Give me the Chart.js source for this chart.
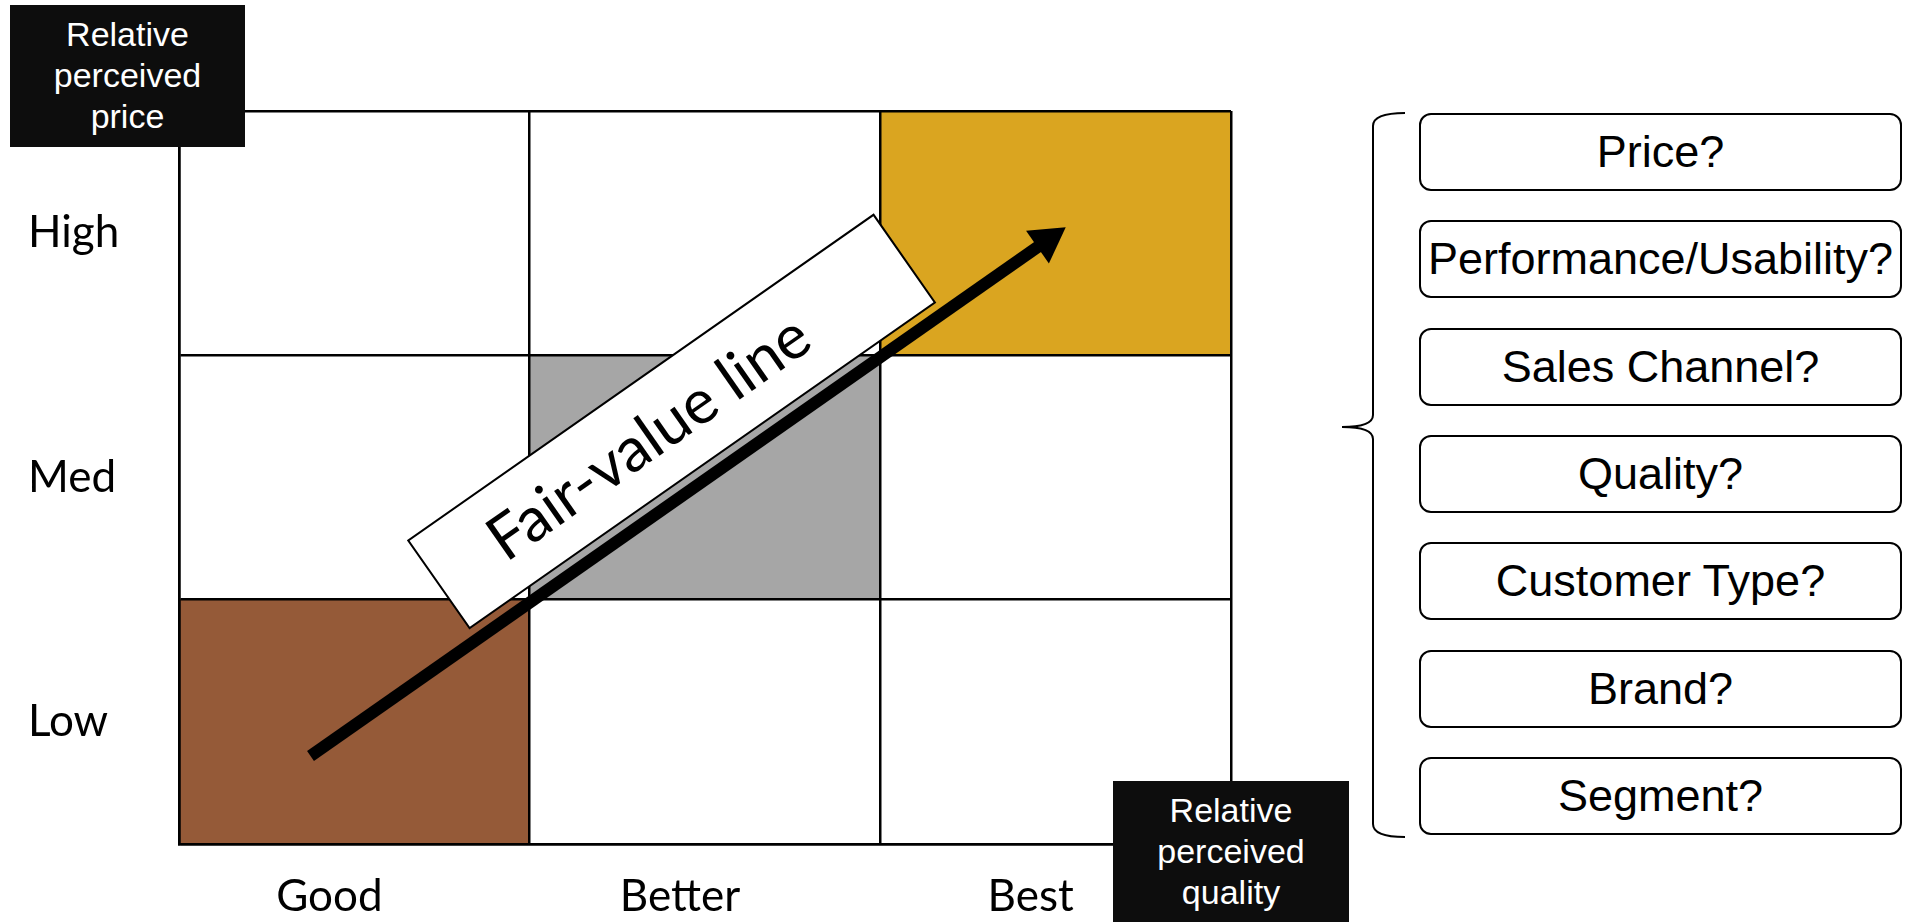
<!DOCTYPE html>
<html>
<head>
<meta charset="utf-8">
<script src="https://cdn.jsdelivr.net/npm/chart.js@4.4.1/dist/chart.umd.min.js"></script>
<style>
  html, body { margin: 0; padding: 0; background: #fff; }
  body { width: 1905px; height: 922px; position: relative; overflow: hidden; font-family: "Liberation Sans", Arial, sans-serif; }
  #wrap { position: absolute; left: 0; top: 0; width: 1905px; height: 922px; }
  .tag { position: absolute; background: #0d0d0d; color: #fff; font-size: 34px; line-height: 41px; text-align: center; box-sizing: border-box; padding-top: 9px; }
  .factor { position: absolute; left: 1419px; width: 483px; height: 78px; box-sizing: border-box; border: 2px solid #000; border-radius: 12px; font-size: 45px; display: flex; align-items: center; justify-content: center; white-space: nowrap; background: #fff; }
  #brace { position: absolute; left: 0; top: 0; }
</style>
</head>
<body>
<div id="wrap"><canvas id="myChart"></canvas></div>
<div class="tag" style="left:10px;top:5px;width:235px;height:142px">Relative<br>perceived<br>price</div>
<div class="tag" style="left:1113px;top:781px;width:236px;height:141px">Relative<br>perceived<br>quality</div>
<svg id="brace" width="1905" height="922">
  <path d="M1405,113 Q1373,113 1373,126 L1373,415 Q1373,427 1342,427 Q1373,427 1373,439 L1373,824 Q1373,837 1405,837" fill="none" stroke="#000" stroke-width="2"/>
</svg>
<div id="factors"></div>
<script>
"use strict";

// columns (x) and rows (y) of the grid
const quality = ["Good", "Better", "Best"];
const priceLevels = ["Low", "Med", "High"];
// row index of the filled cell in each column
const fairValue = [0, 1, 2];
const tierColors = ["#955a38", "#a6a6a6", "#daa520"];

// fair-value arrow, in grid units (0..3)
const arrowX = [0.375, 2.475];
const arrowY = [0.36, 2.47];
const arrowText = "Fair-value line";

const factors = [
  "Price?",
  "Performance/Usability?",
  "Sales Channel?",
  "Quality?",
  "Customer Type?",
  "Brand?",
  "Segment?",
];

const box = document.getElementById("factors");
factors.forEach((f, i) => {
  const d = document.createElement("div");
  d.className = "factor";
  d.style.top = 113 + i * 107.3 + "px";
  d.textContent = f;
  box.appendChild(d);
});

const tickFont = { family: "Lato", size: 44 };
const centers = quality.map((q, i) => i + 0.5);

// white label box lying along the arrow
const fairLabel = {
  id: "fairLabel",
  afterDraw(chart) {
    const xs = chart.scales.ax;
    const ys = chart.scales.ay;
    const x0 = xs.getPixelForValue(arrowX[0]);
    const y0 = ys.getPixelForValue(arrowY[0]);
    const x1 = xs.getPixelForValue(arrowX[1]);
    const y1 = ys.getPixelForValue(arrowY[1]);
    const len = Math.hypot(x1 - x0, y1 - y0);
    const c = chart.ctx;
    c.save();
    c.translate(x0, y0);
    c.rotate(Math.atan2(y1 - y0, x1 - x0));
    c.translate(len * 0.5425, -67);
    c.fillStyle = "#fff";
    c.strokeStyle = "#000";
    c.lineWidth = 2;
    c.fillRect(-284, -53.5, 568, 107);
    c.strokeRect(-284, -53.5, 568, 107);
    c.fillStyle = "#000";
    c.font = "62px Lato";
    c.textAlign = "center";
    c.textBaseline = "alphabetic";
    c.fillText(arrowText, -28, 21);
    c.restore();
  },
};

const rowSets = priceLevels.map((p, r) => ({
  type: "bar",
  label: p,
  stack: "grid",
  grouped: false,
  data: centers.map((x) => ({ x: x, y: 1 })),
  backgroundColor: quality.map((q, i) => (fairValue[i] === r ? tierColors[i] : "#ffffff")),
  borderWidth: 0,
  barPercentage: 1,
  categoryPercentage: 1,
  xAxisID: "x",
  yAxisID: "y",
}));

new Chart("myChart", {
  data: {
    datasets: [
      ...rowSets,
      {
        type: "line",
        label: arrowText,
        data: arrowX.map((x, i) => ({ x: x, y: arrowY[i] })),
        xAxisID: "ax",
        yAxisID: "ay",
        order: -1,
        borderColor: "#000",
        borderWidth: 12,
        borderCapStyle: "butt",
        tension: 0,
        pointRadius: [0, 23],
        pointStyle: "triangle",
        pointBackgroundColor: "#000",
        pointBorderWidth: 0,
        pointRotation: (ctx) => {
          const xs = ctx.chart.scales.ax;
          const ys = ctx.chart.scales.ay;
          const dx = xs.getPixelForValue(arrowX[1]) - xs.getPixelForValue(arrowX[0]);
          const dy = ys.getPixelForValue(arrowY[1]) - ys.getPixelForValue(arrowY[0]);
          return (Math.atan2(dy, dx) * 180) / Math.PI + 90;
        },
      },
    ],
  },
  options: {
    responsive: true,
    maintainAspectRatio: false,
    animation: false,
    events: [],
    layout: { padding: { top: 111, right: 674, bottom: 0, left: 28 } },
    plugins: {
      legend: { display: false },
      tooltip: { enabled: false },
    },
    scales: {
      x: {
        type: "linear",
        min: 0,
        max: 3,
        offset: false,
        stacked: true,
        afterBuildTicks: (a) => {
          a.ticks = centers.map((v) => ({ value: v }));
        },
        afterFit: (a) => {
          a.height = 78;
        },
        ticks: {
          callback: (v, i) => quality[i],
          font: tickFont,
          color: "#000",
          padding: 26,
          labelOffset: -25,
          maxRotation: 0,
          autoSkip: false,
        },
        grid: { offset: true, color: "#000", lineWidth: 2.5, drawTicks: false, z: 1 },
        border: { color: "#000", width: 2.5, z: 1 },
      },
      y: {
        type: "linear",
        min: 0,
        max: 3,
        offset: false,
        stacked: true,
        afterBuildTicks: (a) => {
          a.ticks = centers.map((v) => ({ value: v }));
        },
        afterFit: (a) => {
          a.width = 151;
        },
        ticks: {
          callback: (v, i) => priceLevels[i],
          font: tickFont,
          color: "#000",
          crossAlign: "far",
          padding: 0,
          autoSkip: false,
        },
        grid: { offset: true, color: "#000", lineWidth: 2.5, drawTicks: false, z: 1 },
        border: { color: "#000", width: 2.5, z: 1 },
      },
      ax: { type: "linear", min: 0, max: 3, display: false },
      ay: { type: "linear", min: 0, max: 3, display: false },
    },
  },
  plugins: [fairLabel],
});
</script>
</body>
</html>
